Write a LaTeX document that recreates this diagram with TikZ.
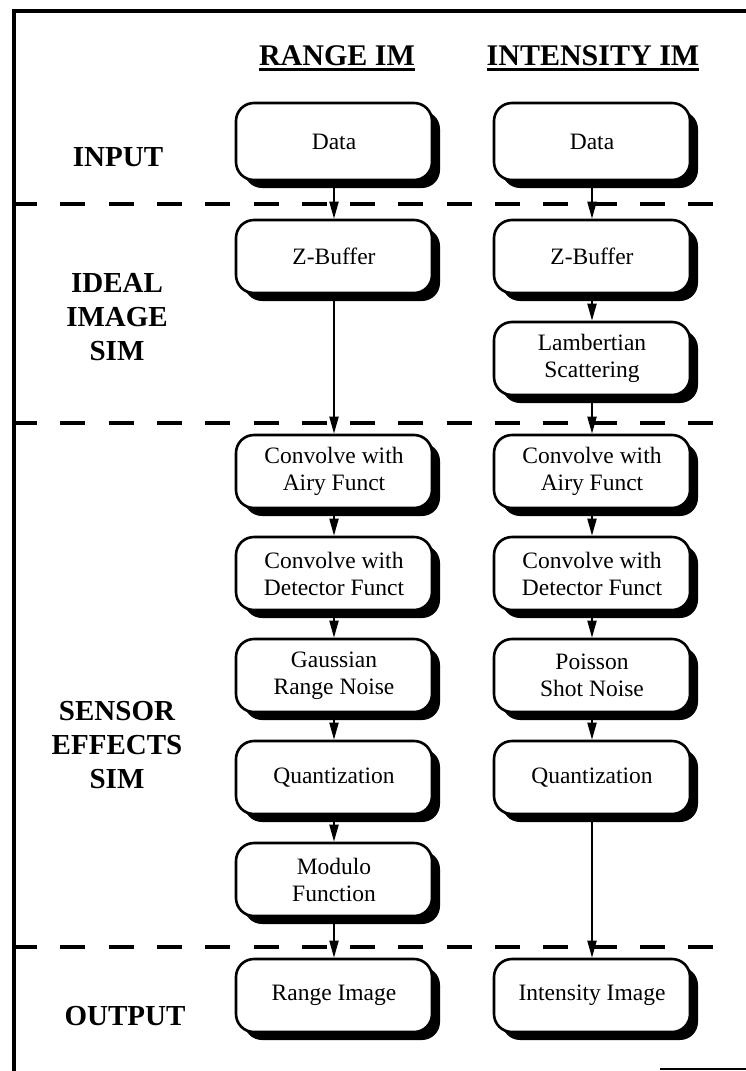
\documentclass[tikz,border=0pt]{standalone}
\usepackage{fontspec}
\setmainfont{Liberation Serif}
\usetikzlibrary{shadows,arrows.meta}
\begin{document}
\begin{tikzpicture}[x=1pt,y=-1pt,
  proc/.style={draw, line width=2.6pt, rounded corners=18pt, fill=white,
    minimum width=196pt, minimum height=73pt, align=center, inner sep=2pt,
    font=\fontsize{23.5}{27}\selectfont,
    drop shadow={shadow xshift=8pt, shadow yshift=-8pt, opacity=1, fill=black}},
  tallproc/.style={proc, minimum height=77pt},
  flow/.style={line width=2pt, -{Triangle[length=17pt,width=9pt]}},
  stage/.style={font=\fontsize{29}{34}\selectfont\bfseries, align=center},
  colhead/.style={font=\fontsize{30}{36}\selectfont\bfseries, inner sep=0pt, anchor=base},
  sep/.style={line width=3.5pt, dash pattern=on 25pt off 23.3pt, dash phase=2pt},
  frame/.style={line width=3.2pt}
]
\useasboundingbox (0,0) rectangle (746,1071);

% outer frame (left and top edges) and the short piece at the bottom right
\draw[frame] (14,1071) -- (14,11) -- (746,11);
\draw[line width=2pt] (660,1069) -- (746,1069);

% stage separators
\draw[sep] (14,204) -- (714,204);
\draw[sep] (14,423) -- (714,423);
\draw[sep] (14,947) -- (714,947);

% column headings
\node[colhead] (hRange) at (337,65) {RANGE IM};
\node[colhead] (hInt) at (593,65) {INTENSITY IM};
\draw[line width=3pt] ([yshift=-4pt]hRange.base west) -- ([yshift=-4pt]hRange.base east);
\draw[line width=3pt] ([yshift=-4pt]hInt.base west) -- ([yshift=-4pt]hInt.base east);

% stage names
\node[stage] (sIn) at (118,157) {INPUT};
\node[stage] (sIdeal) at (117,317) {IDEAL\\IMAGE\\SIM};
\node[stage] (sSensor) at (117,745) {SENSOR\\EFFECTS\\SIM};
\node[stage] (sOut) at (125,1016) {OUTPUT};

% range image chain
\node[tallproc] (rData) at (334,141.5) {Data};
\node[proc] (rZ) at (334,256.5) {Z-Buffer};
\node[proc] (rAiry) at (334,471.5) {Convolve with\\Airy Funct};
\node[proc] (rDet) at (334,573.5) {Convolve with\\Detector Funct};
\node[proc] (rNoise) at (334,675.5) {Gaussian\\Range Noise};
\node[proc] (rQ) at (334,777.5) {Quantization};
\node[proc] (rMod) at (334,879.5) {Modulo\\Function};
\node[proc] (rOut) at (334,995.5) {Range Image};

% intensity image chain
\node[tallproc] (iData) at (592,141.5) {Data};
\node[proc] (iZ) at (592,256.5) {Z-Buffer};
\node[proc] (iLamb) at (592,358.5) {Lambertian\\Scattering};
\node[proc] (iAiry) at (592,471.5) {Convolve with\\Airy Funct};
\node[proc] (iDet) at (592,573.5) {Convolve with\\Detector Funct};
\node[proc] (iNoise) at (592,675.5) {Poisson\\Shot Noise};
\node[proc] (iQ) at (592,777.5) {Quantization};
\node[proc] (iOut) at (592,995.5) {Intensity Image};

% connectors
\draw[flow] (rData.south) -- (rZ.north);
\draw[flow] (rZ.south) -- (rAiry.north);
\draw[flow] (rAiry.south) -- (rDet.north);
\draw[flow] (rDet.south) -- (rNoise.north);
\draw[flow] (rNoise.south) -- (rQ.north);
\draw[flow] (rQ.south) -- (rMod.north);
\draw[flow] (rMod.south) -- (rOut.north);

\draw[flow] (iData.south) -- (iZ.north);
\draw[flow] (iZ.south) -- (iLamb.north);
\draw[flow] (iLamb.south) -- (iAiry.north);
\draw[flow] (iAiry.south) -- (iDet.north);
\draw[flow] (iDet.south) -- (iNoise.north);
\draw[flow] (iNoise.south) -- (iQ.north);
\draw[flow] (iQ.south) -- (iOut.north);
\end{tikzpicture}
\end{document}
